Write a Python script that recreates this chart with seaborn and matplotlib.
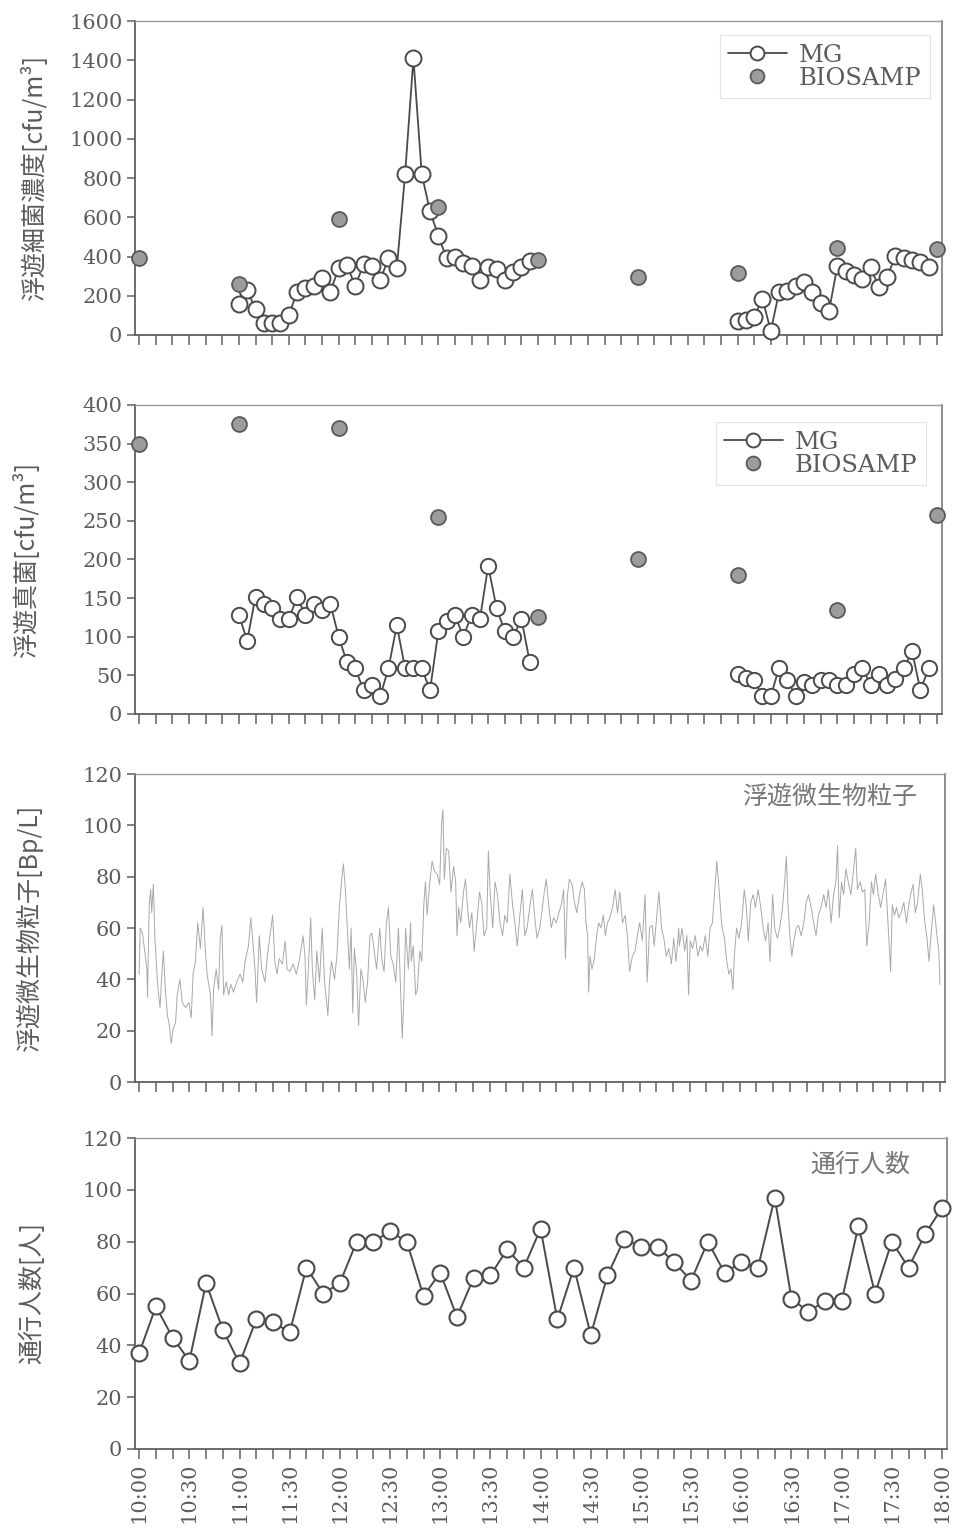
import matplotlib
matplotlib.use("Agg")
import matplotlib.pyplot as plt
from matplotlib.lines import Line2D
import numpy as np
import pandas as pd
import seaborn as sns

# ---------------- data (time axis: minutes after 10:00) ----------------
mg_am_start, mg_pm_start, mg_step = 60, 360, 5          # MG samples 11:00-13:55, 16:00-17:55
bio_times = [0, 60, 120, 180, 240, 300, 360, 420, 480]  # BIOSAMP hourly 10:00-18:00

bact_mg_am = [160, 230, 130, 60, 60, 60, 100, 220, 240, 250, 290, 220,
              340, 355, 250, 360, 350, 280, 390, 340, 820, 1410, 820, 630,
              505, 390, 400, 365, 350, 280, 345, 335, 280, 320, 345, 375]
bact_mg_pm = [70, 75, 90, 185, 20, 220, 225, 250, 270, 220, 165, 120,
              350, 325, 305, 285, 345, 245, 295, 405, 390, 380, 370, 345]
bact_bio = [390, 260, 590, 650, 380, 295, 315, 445, 440]

fungi_mg_am = [128, 95, 152, 143, 137, 123, 123, 151, 128, 143, 135, 143,
               100, 67, 59, 31, 38, 23, 59, 115, 59, 59, 59, 31,
               107, 121, 128, 100, 128, 123, 192, 137, 107, 100, 123, 67]
fungi_mg_pm = [52, 46, 44, 23, 23, 60, 44, 23, 42, 38, 44, 44,
               38, 38, 52, 60, 38, 52, 38, 45, 59, 81, 31, 59]
fungi_bio = [350, 375, 370, 255, 125, 200, 180, 135, 258]

particle_t = [0, 0.6, 2.0, 4.6, 5.0, 6.0, 6.9, 7.5, 8.5, 9.5, 10.5, 11.3, 12.5, 13.3, 14.5,
              15.7, 16.9, 17.9, 19.2, 20.4, 21.8, 22.8, 24.4, 25.8, 27.8, 29.8, 31.2, 32.3,
              33.7, 35.1, 36.7, 38.3, 39.5, 40.7, 42.7, 43.7, 44.6, 46.2, 47.6, 48.6, 49.6,
              50.6, 52.2, 53.6, 55.0, 56.5, 58.5, 60.5, 62.1, 63.5, 65.5, 66.9, 68.1, 69.4,
              70.4, 72.0, 73.4, 75.4, 76.8, 78.4, 80.0, 81.3, 82.7, 83.9, 85.9, 87.5, 88.7,
              90.3, 92.3, 94.2, 96.2, 98.2, 99.4, 100.2, 101.4, 102.8, 103.8, 105.2, 106.5,
              108.1, 109.7, 111.1, 113.1, 114.1, 115.3, 117.1, 118.5, 120.0, 121.4, 122.4,
              123.6, 125.0, 126.0, 127.0, 128.0, 129.0, 130.4, 131.5, 132.9, 134.3, 135.5,
              136.9, 138.3, 139.5, 140.9, 142.3, 144.2, 145.4, 146.8, 148.2, 149.4, 150.8,
              152.2, 153.8, 155.4, 156.5, 157.7, 158.7, 159.7, 161.3, 162.7,
              163.1, 164.3, 165.7, 166.7, 168.2, 169.4, 170.6, 171.6, 172.6, 174.2, 175.6,
              177.0, 178.6, 180.1, 181.3, 182.1, 182.9, 184.1, 185.5, 186.9, 188.5, 189.7,
              190.5, 191.5, 192.8, 194.4, 195.6, 196.8, 198.0, 199.4, 200.8, 202.4, 204.0,
              205.3, 206.7, 208.3, 209.3, 210.3, 211.9, 213.3, 214.7, 216.3, 217.8, 219.2,
              220.6, 222.2, 223.8, 225.2, 226.6, 228.2, 229.7, 231.1, 232.5, 234.1, 235.7,
              237.1, 238.5, 240.1, 241.7, 243.0, 244.0, 245.6, 247.0, 248.4, 250.0, 251.6,
              253.0, 254.4, 255.5, 256.7, 257.9, 259.5, 260.9, 262.3, 263.9, 265.5, 266.9,
              267.8, 268.8, 269.4, 270.2, 271.4, 272.8, 274.2, 275.4, 276.8, 278.2, 279.4,
              280.7, 282.1, 283.7, 285.3, 286.7, 288.1, 289.7, 291.3, 292.6, 294.0, 295.6,
              297.2, 298.6, 300.0, 301.6, 303.2, 304.5, 305.9, 307.5, 308.7, 309.9, 311.5,
              313.1, 314.5, 315.9, 317.4, 319.0, 320.4, 321.8, 323.4,
              323.8, 325.4, 327.0, 328.3, 329.3, 330.3, 331.7, 333.3, 334.9, 336.3, 337.7,
              339.3, 340.8, 342.2, 343.6, 344.8, 346.2, 347.6, 349.2, 350.8, 352.2, 353.5,
              354.7, 355.9, 356.7, 358.1, 359.5, 361.1, 362.7, 363.9, 365.1, 366.6, 368.0,
              369.4, 371.0, 372.6, 374.0, 375.4, 377.0, 378.1, 379.7, 380.9, 382.5, 383.9,
              385.3, 386.9, 387.9, 388.9, 390.0, 391.2, 392.4, 393.8, 395.2, 396.8, 398.4,
              399.8, 401.2, 402.8, 404.3, 405.7, 407.1, 408.7, 410.3, 411.7, 413.1, 414.7,
              416.2, 417.6, 418.6, 419.6, 421.0, 422.2, 423.6, 425.0, 426.6, 428.1, 429.5,
              430.5, 432.1, 433.5, 434.9, 436.1, 437.5, 438.9, 440.1, 441.4, 442.8, 444.4,
              446.0, 447.4, 448.8, 450.4, 451.4, 452.7, 453.9, 455.3, 456.7, 458.3, 459.9,
              461.3, 462.7, 463.9, 465.2, 466.6, 468.2, 469.4, 470.6, 472.2, 473.4, 474.6,
              476.2, 477.4, 478.5, 479.3, 480.0]
particle_v = [42, 60, 58, 44, 33, 69, 75, 66, 77, 55, 44, 36, 29, 39, 51,
              36, 26, 23, 15, 21, 23, 34, 40, 31, 29, 31, 25, 42,
              47, 62, 52, 68, 53, 42, 34, 18, 36, 44, 36, 56, 61,
              34, 39, 34, 38, 35, 39, 42, 39, 47, 53, 64, 55, 44,
              31, 57, 44, 39, 49, 57, 65, 47, 42, 48, 46, 55, 44,
              43, 46, 42, 48, 57, 49, 30, 44, 64, 44, 32, 51,
              39, 60, 39, 26, 39, 47, 40, 49, 68, 79, 85,
              75, 57, 44, 60, 27, 52, 42, 22, 44, 39, 31,
              39, 57, 58, 51, 44, 60, 48, 43, 62, 68, 49,
              46, 39, 60, 39, 17, 34, 60, 44, 62,
              47, 53, 34, 36, 51, 47, 69, 78, 65, 78, 86,
              82, 81, 77, 101, 106, 79, 91, 90, 74, 84, 78,
              57, 68, 62, 74, 79, 68, 60, 66, 51, 62, 74,
              70, 57, 60, 90, 75, 60, 78, 73, 62, 57, 65,
              62, 81, 69, 62, 53, 65, 75, 57, 60, 68, 75,
              64, 56, 60, 68, 75, 79, 68, 60, 64, 62, 66,
              69, 75, 48, 73, 79, 77, 70, 66, 73, 78, 75,
              62, 57, 35, 49, 44, 48, 57, 62, 60, 65, 57,
              62, 64, 68, 75, 66, 74, 62, 65, 57, 43, 49,
              51, 57, 62, 55, 73, 39, 60, 61, 53, 62, 74,
              60, 56, 49, 52, 46, 56, 47, 60,
              53, 60, 51, 57, 34, 55, 52, 57, 49, 53, 51,
              57, 49, 60, 62, 73, 86, 75, 61, 56, 47, 42,
              44, 36, 49, 60, 56, 62, 75, 68, 55, 70, 73,
              68, 75, 68, 60, 55, 62, 47, 73, 60, 56, 60,
              66, 78, 88, 69, 57, 49, 55, 60, 61, 57, 62,
              70, 73, 68, 62, 57, 65, 68, 73, 68, 75, 62,
              73, 78, 92, 64, 78, 73, 83, 78, 73, 82, 91,
              75, 78, 74, 75, 53, 62, 78, 73, 81, 74, 68,
              74, 79, 62, 43, 69, 65, 68, 64, 66, 70, 62,
              69, 74, 77, 66, 70, 81, 75, 64, 56, 47, 57,
              69, 62, 55, 51, 38]

people_step = 10
people = [37, 55, 43, 34, 64, 46, 33, 50, 49, 45, 70, 60, 64, 80, 80, 84, 80, 59,
          68, 51, 66, 67, 77, 70, 85, 50, 70, 44, 67, 81, 78, 78, 72, 65, 80, 68,
          72, 70, 97, 58, 53, 57, 57, 86, 60, 80, 70, 83, 93]

time_labels = ["10:00", "10:30", "11:00", "11:30", "12:00", "12:30", "13:00", "13:30",
               "14:00", "14:30", "15:00", "15:30", "16:00", "16:30", "17:00", "17:30", "18:00"]

# ---------------- style ----------------
sns.set_theme(style="ticks")
plt.rcParams["font.family"] = ["DejaVu Serif", "Noto Sans CJK JP"]
JP = ["Noto Sans CJK JP", "DejaVu Serif"]
INK = "#4a4a4a"
TXT = "#5c5c5c"
GRID_C = "#606060"

W, H = 956, 1532
fig = plt.figure(figsize=(W / 100, H / 100), dpi=100)
fig.patch.set_facecolor("white")


def rect(l, t, r, b):
    return [l / W, 1 - b / H, (r - l) / W, (b - t) / H]


axes = [fig.add_axes(rect(135, 21, 942, 335)),
        fig.add_axes(rect(135, 405, 942, 714)),
        fig.add_axes(rect(135, 774, 945, 1082)),
        fig.add_axes(rect(135, 1138, 947, 1449))]

XMIN, XMAX = -2.5, 483


def mg_times(start, n):
    return [start + mg_step * i for i in range(n)]


def draw_mg(ax, start, vals, ms):
    sns.lineplot(x=mg_times(start, len(vals)), y=vals, ax=ax, color=INK, linewidth=1.3,
                 marker="o", markersize=ms, markerfacecolor="white", markeredgecolor=INK,
                 markeredgewidth=1.4, legend=False, clip_on=False, zorder=3)


def draw_bio(ax, vals):
    sns.scatterplot(x=bio_times, y=vals, ax=ax, s=115, color="#9c9c9c", edgecolor="#5a5a5a",
                    linewidth=1.3, legend=False, clip_on=False, zorder=4)


def style_axis(ax, ymax, ystep, bottom=False):
    ax.set_xlim(XMIN, XMAX)
    ax.set_ylim(0, ymax)
    ax.set_yticks(np.arange(0, ymax + 1, ystep))
    ax.set_xticks(np.arange(0, 481, 10))
    if bottom:
        labs = []
        for m in range(0, 481, 10):
            labs.append(time_labels[m // 30] if m % 30 == 0 else "")
        ax.set_xticklabels(labs, rotation=90, fontsize=15, color=TXT)
    else:
        ax.set_xticklabels([])
    ax.tick_params(axis="both", direction="out", length=6, width=1.1, color=GRID_C,
                   labelsize=15, labelcolor=TXT, pad=3)
    ax.tick_params(axis="x", length=7)
    for side in ["left", "bottom"]:
        ax.spines[side].set_color(GRID_C)
        ax.spines[side].set_linewidth(1.3)
    ax.spines["right"].set_color("#7a7a7a")
    ax.spines["right"].set_linewidth(1.2)
    ax.spines["top"].set_color("#9a9a9a")
    ax.spines["top"].set_linewidth(1.0)
    ax.set_xlabel("")


def legend(ax, anchor):
    h = [Line2D([], [], color=INK, lw=1.3, marker="o", ms=10, mfc="white", mec=INK, mew=1.4),
         Line2D([], [], ls="none", marker="o", ms=10, mfc="#9c9c9c", mec="#5a5a5a", mew=1.3)]
    lg = ax.legend(h, ["MG", "BIOSAMP"], loc="upper right", bbox_to_anchor=anchor,
                   fontsize=17.5, frameon=True, fancybox=False, borderaxespad=0,
                   handlelength=2.4, handletextpad=0.5, labelspacing=0.0, borderpad=0.35)
    lg.get_frame().set_edgecolor("#dddddd")
    lg.get_frame().set_linewidth(0.8)
    for t in lg.get_texts():
        t.set_color(TXT)


# Panel 1: airborne bacteria
ax = axes[0]
draw_mg(ax, mg_am_start, bact_mg_am, 11.5)
draw_mg(ax, mg_pm_start, bact_mg_pm, 11.5)
draw_bio(ax, bact_bio)
style_axis(ax, 1600, 200)
ax.set_ylabel("浮遊細菌濃度[cfu/m³]", fontsize=18, family=JP, color=TXT)
ax.yaxis.set_label_coords(-0.108, 0.5)
legend(ax, (0.985, 0.955))

# Panel 2: airborne fungi
ax = axes[1]
draw_mg(ax, mg_am_start, fungi_mg_am, 11)
draw_mg(ax, mg_pm_start, fungi_mg_pm, 11)
draw_bio(ax, fungi_bio)
style_axis(ax, 400, 50)
ax.set_ylabel("浮遊真菌[cfu/m³]", fontsize=18, family=JP, color=TXT)
ax.yaxis.set_label_coords(-0.118, 0.5)
legend(ax, (0.98, 0.945))

# Panel 3: airborne microbial particles
ax = axes[2]
sns.lineplot(x=particle_t, y=particle_v, ax=ax, color="#a9a9a9", linewidth=0.7,
             legend=False, estimator=None)
style_axis(ax, 120, 20)
ax.set_ylabel("浮遊微生物粒子[Bp/L]", fontsize=18, family=JP, color=TXT)
ax.yaxis.set_label_coords(-0.113, 0.5)
ax.text(0.965, 0.925, "浮遊微生物粒子", transform=ax.transAxes, ha="right", va="center",
        fontsize=18, family=JP, color="#777777")

# Panel 4: pedestrian count
ax = axes[3]
sns.lineplot(x=[people_step * i for i in range(len(people))], y=people, ax=ax, color=INK,
             linewidth=1.4, marker="o", markersize=11.5, markerfacecolor="white",
             markeredgecolor=INK, markeredgewidth=1.5, legend=False, clip_on=False, zorder=3)
style_axis(ax, 120, 20, bottom=True)
ax.set_ylabel("通行人数[人]", fontsize=18, family=JP, color=TXT)
ax.yaxis.set_label_coords(-0.11, 0.5)
ax.text(0.955, 0.915, "通行人数", transform=ax.transAxes, ha="right", va="center",
        fontsize=18, family=JP, color="#777777")

fig.savefig("out.png", dpi=100, facecolor="white")
